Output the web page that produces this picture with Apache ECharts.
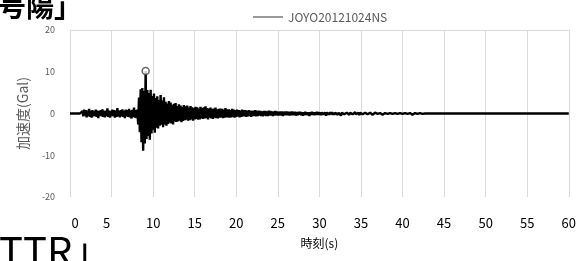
<!DOCTYPE html>
<html>
<head>
<meta charset="utf-8">
<script src="https://cdn.jsdelivr.net/npm/echarts@6/dist/echarts.min.js"></script>
<style>
  html, body { margin: 0; padding: 0; background: #fff; }
  #chart { width: 579px; height: 261px; }
</style>
</head>
<body>
<div id="chart"></div>
<script>
// 波形データ (0.1秒ごと, 0〜42.9秒), 以降は 0
const seriesName = 'JOYO20121024NS';
const dt = 0.1;
const endTime = 60;
const accel = [
  0, 0, 0, 0, 0, 0, 0, 0, 0, 0,
  0, 0, 0, 0, 0, 0.6, -0.7, 0.9, -0.5, 0.8,
  -0.9, 0.7, -0.6, 1.1, -0.8, 0.6, -1.0, 0.8, -0.7, 0.5,
  -0.6, 0.9, -0.8, 0.7, -1.1, 0.6, -0.5, 0.8, -0.7, 1.0,
  -0.8, 0.6, -0.9, 0.7, -0.6, 1.2, -0.8, 0.7, -1.0, 0.6,
  -0.7, 0.9, -0.6, 0.8, -1.0, 0.7, -0.8, 1.3, -0.7, 0.6,
  -0.9, 0.8, -0.7, 1.0, -0.8, 0.6, -1.1, 0.9, -0.7, 0.8,
  -0.8, 1.1, -0.9, 0.7, -1.2, 0.9, -0.8, 1.4, -1.0, 0.8,
  -1.1, 0.9, -2.6, 3.8, -4.5, 5.8, -6.9, 6.1, -8.9, 5.4,
  -7.2, 10.2, -6.1, 5.6, -5.4, 4.9, -6.3, 5.7, -4.8, 4.2,
  -3.9, 4.8, -4.6, 3.7, -3.4, 4.1, -3.6, 3.2, -2.9, 4.4,
  -2.7, 3.1, -3.3, 3.9, -2.6, 2.8, -2.9, 2.4, -2.5, 3.0,
  -2.2, 2.6, -2.4, 2.1, -2.6, 2.3, -1.9, 2.5, -2.0, 1.8,
  -1.9, 2.2, -1.7, 1.9, -2.1, 1.6, -1.8, 2.0, -1.6, 1.7,
  -1.5, 1.9, -1.7, 1.4, -1.6, 1.8, -1.4, 1.5, -1.7, 1.3,
  -1.4, 1.6, -1.3, 1.5, -1.5, 1.2, -1.4, 1.6, -1.2, 1.3,
  -1.3, 1.5, -1.2, 1.7, -1.1, 1.3, -1.4, 1.2, -1.0, 1.4,
  -1.2, 1.1, -1.3, 1.2, -1.0, 1.4, -1.1, 1.0, -1.2, 1.1,
  -1.0, 1.2, -0.9, 1.1, -1.1, 0.9, -1.0, 1.3, -0.9, 1.0,
  -0.9, 1.0, -1.0, 0.8, -0.9, 1.1, -0.8, 0.9, -1.0, 0.8,
  -0.8, 0.9, -0.7, 0.8, -0.9, 0.7, -0.8, 0.9, -0.7, 0.8,
  -0.7, 0.8, -0.8, 0.6, -0.7, 0.8, -0.6, 0.7, -0.8, 0.6,
  -0.6, 0.7, -0.6, 0.8, -0.7, 0.6, -0.6, 0.7, -0.5, 0.6,
  -0.6, 0.5, -0.7, 0.6, -0.5, 0.6, -0.6, 0.5, -0.6, 0.7,
  -0.5, 0.6, -0.5, 0.5, -0.6, 0.5, -0.5, 0.6, -0.4, 0.5,
  -0.5, 0.4, -0.5, 0.5, -0.4, 0.5, -0.6, 0.4, -0.4, 0.5,
  -0.4, 0.5, -0.4, 0.4, -0.5, 0.4, -0.4, 0.5, -0.4, 0.4,
  -0.4, 0.4, -0.5, 0.3, -0.4, 0.4, -0.3, 0.4, -0.4, 0.3,
  -0.5, 0.3, -0.4, 0.4, -0.3, 0.3, -0.4, 0.3, -0.6, 0.3,
  -0.3, 0.4, -0.3, 0.3, -0.4, 0.3, -0.3, 0.4, -0.3, 0.3,
  -0.3, 0.3, -0.4, 0.3, -0.3, 0.2, -0.3, 0.3, -0.5, 0.3,
  -0.3, 0.2, -0.3, 0.3, -0.2, 0.3, -0.3, 0.2, -0.3, 0.2,
  -0.2, 0.3, -0.3, 0.2, -0.2, 0.3, -0.5, 0.2, -0.2, 0.3,
  -0.2, 0.2, -0.3, 0.2, -0.2, 0.2, -0.3, 0.2, -0.2, 0.2,
  -0.2, 0.2, -0.2, 0.3, -0.2, 0.2, -0.2, 0.2, -0.4, 0.2,
  -0.2, 0.1, -0.2, 0.2, -0.1, 0.2, -0.2, 0.1, -0.2, 0.1,
  -0.1, 0.2, -0.1, 0.1, -0.3, 0.1, -0.1, 0.2, -0.1, 0.1,
  -0.1, 0.1, -0.1, 0.1, -0.1, 0.1, -0.3, 0.1, -0.1, 0.1,
  -0.1, 0.1, -0.1, 0.1, -0.1, 0.1, -0.1, 0.1, -0.1, 0.1,
  -0.1, 0.1, -0.2, 0.1, -0.1, 0.1, -0.1, 0.1, -0.1, 0.1,
  -0.1, 0.1, -0.1, 0.1, -0.1, 0.1, -0.1, 0.1, -0.1, 0.1,
  -0.1, 0.1, -0.3, 0.1, -0.1, 0.1, -0.1, 0.1, -0.1, 0.1,
  -0.1, 0.1, -0.1, 0.1, -0.1, 0, 0, 0, 0, 0
];
// 最大値の点 (時刻, 加速度)
const peak = [9.1, 10.2];
const xTicks = { min: 0, max: 60, step: 5 };
const yTicks = { min: -20, max: 20, step: 10 };

const lineData = accel.map((v, i) => [+(i * dt).toFixed(1), v]);
lineData.push([endTime, 0]);

const font = '"Noto Sans CJK JP", "Noto Sans", sans-serif';
const chart = echarts.init(document.getElementById('chart'));

chart.setOption({
  animation: false,
  backgroundColor: '#fff',
  textStyle: { fontFamily: font },
  grid: { left: 70, right: 9, top: 30, bottom: 64 },
  legend: {
    data: [{ name: seriesName, icon: 'rect' }],
    left: 248,
    top: 6,
    itemWidth: 30,
    itemHeight: 1,
    itemGap: 4,
    itemStyle: { color: '#333' },
    textStyle: { fontSize: 12, color: '#595959', fontFamily: font }
  },
  xAxis: {
    type: 'value',
    min: xTicks.min,
    max: xTicks.max,
    interval: xTicks.step,
    name: '時刻(s)',
    nameLocation: 'middle',
    nameGap: 40,
    nameTextStyle: { fontSize: 12, color: '#000', fontFamily: font },
    axisLine: { show: false },
    axisTick: { show: false },
    axisLabel: {
      margin: 20,
      fontSize: 13,
      color: '#000',
      formatter: function (v) {
        if (v === 0) return '{r|0}';
        if (v === 5) return '{l|5}';
        return String(v);
      },
      rich: {
        r: { fontSize: 13, color: '#000', padding: [0, 0, 0, 10] },
        l: { fontSize: 13, color: '#000', padding: [0, 10, 0, 0] }
      }
    },
    splitLine: { show: true, lineStyle: { color: '#d9d9d9', width: 1 } }
  },
  yAxis: {
    type: 'value',
    min: yTicks.min,
    max: yTicks.max,
    interval: yTicks.step,
    name: '加速度(Gal)',
    nameLocation: 'middle',
    nameGap: 40,
    nameTextStyle: { fontSize: 14, color: '#595959', fontFamily: font },
    axisLine: { show: false },
    axisTick: { show: false },
    axisLabel: { margin: 15, fontSize: 9, color: '#595959' },
    splitLine: {
      show: true,
      lineStyle: {
        color: ['rgba(0,0,0,0)', 'rgba(0,0,0,0)', 'rgba(0,0,0,0)', 'rgba(0,0,0,0)', '#d9d9d9'],
        width: 1
      }
    }
  },
  series: [
    {
      name: seriesName,
      type: 'line',
      data: lineData,
      showSymbol: false,
      symbol: 'none',
      lineStyle: { color: '#000', width: 2.4 },
      itemStyle: { color: '#000' },
      z: 3
    },
    {
      name: 'peak',
      type: 'scatter',
      data: [peak],
      symbol: 'circle',
      symbolSize: 7,
      itemStyle: { color: '#fff', borderColor: '#404040', borderWidth: 1.5 },
      z: 4
    }
  ],
  graphic: [
    {
      type: 'text',
      style: {
        text: '号陽」',
        x: 82,
        y: 20,
        textAlign: 'right',
        textVerticalAlign: 'bottom',
        font: 'bold 28px ' + font,
        fill: '#000'
      }
    },
    {
      type: 'text',
      style: {
        text: 'TTR」',
        x: -1,
        y: 231,
        textAlign: 'left',
        textVerticalAlign: 'top',
        font: '40px ' + font,
        fill: '#000'
      }
    }
  ]
});
</script>
</body>
</html>
